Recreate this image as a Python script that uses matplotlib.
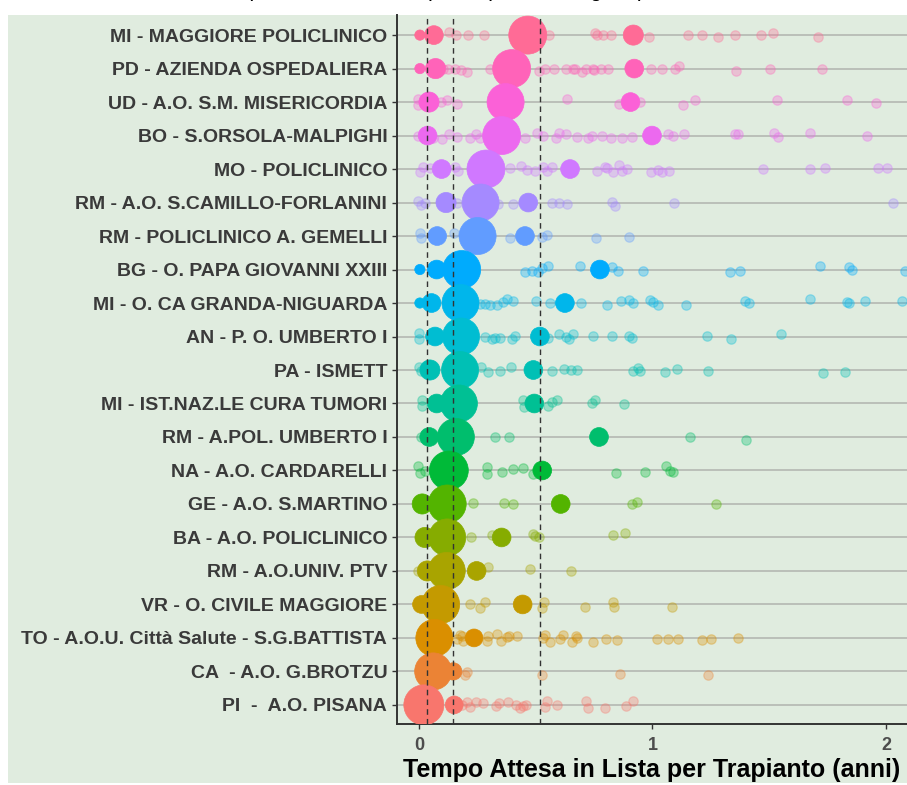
import numpy as np
import matplotlib
matplotlib.use('Agg')
import matplotlib.pyplot as plt
from matplotlib.patches import Rectangle

# centri, dall'alto verso il basso
centri = ['MI - MAGGIORE POLICLINICO', 'PD - AZIENDA OSPEDALIERA', 'UD - A.O. S.M. MISERICORDIA',
          'BO - S.ORSOLA-MALPIGHI', 'MO - POLICLINICO', 'RM - A.O. S.CAMILLO-FORLANINI',
          'RM - POLICLINICO A. GEMELLI', 'BG - O. PAPA GIOVANNI XXIII', 'MI - O. CA GRANDA-NIGUARDA',
          'AN - P. O. UMBERTO I', 'PA - ISMETT', 'MI - IST.NAZ.LE CURA TUMORI', 'RM - A.POL. UMBERTO I',
          'NA - A.O. CARDARELLI', 'GE - A.O. S.MARTINO', 'BA - A.O. POLICLINICO', 'RM - A.O.UNIV. PTV',
          'VR - O. CIVILE MAGGIORE', 'TO - A.O.U. Città Salute - S.G.BATTISTA', 'CA  - A.O. G.BROTZU',
          'PI  -  A.O. PISANA']

# cerchio grande: tempo e numerosita'
grande_x = [0.466, 0.397, 0.371, 0.354, 0.287, 0.264, 0.251, 0.183, 0.178, 0.180, 0.176,
            0.171, 0.158, 0.128, 0.121, 0.121, 0.119, 0.093, 0.066, 0.061, 0.021]
grande_n = [82, 82, 78, 82, 82, 78, 78, 82, 78, 78, 78, 78, 78, 86, 82, 78, 78, 82, 78, 78, 91]

# altri gruppi pieni (tempo, numerosita')
gruppi = [
    [(0.004, 6), (0.064, 20), (0.918, 23)],
    [(0.004, 6), (0.071, 23), (0.922, 20)],
    [(0.043, 23), (0.906, 20)],
    [(0.037, 20), (0.998, 20)],
    [(0.097, 20), (0.647, 20)],
    [(0.116, 23), (0.468, 20)],
    [(0.078, 20), (0.454, 20)],
    [(0.004, 6), (0.076, 20), (0.775, 20)],
    [(0.004, 6), (0.054, 20), (0.625, 20)],
    [(0.069, 20), (0.518, 20)],
    [(0.047, 23), (0.490, 20)],
    [(0.076, 20), (0.494, 20)],
    [(0.044, 20), (0.771, 20)],
    [(0.528, 20)],
    [(0.014, 23), (0.607, 20)],
    [(0.026, 23), (0.354, 20)],
    [(0.036, 23), (0.247, 20)],
    [(0.011, 18), (0.444, 20)],
    [(0.236, 18)],
    [(0.147, 17)],
    [(0.151, 18)],
]

# singoli pazienti (tempo, jitter)
pazienti = [
    [(0.127, .08), (0.158, 0), (0.211, 0), (0.277, 0), (0.558, 0), (0.752, .05), (0.764, 0), (0.789, 0),
     (0.821, 0), (0.986, -.07), (1.153, 0), (1.21, 0), (1.279, -.07), (1.352, 0), (1.465, 0), (1.515, .05),
     (1.707, -.07)],
    [(0.104, 0), (0.126, 0), (0.154, 0), (0.18, -.05), (0.207, -.1), (0.304, 0), (0.513, -.07), (0.54, 0),
     (0.58, 0), (0.628, 0), (0.661, 0), (0.668, 0), (0.697, -.1), (0.715, 0), (0.744, 0), (0.749, -.05),
     (0.778, 0), (0.811, 0), (0.992, 0), (1.042, 0), (1.096, 0), (1.115, .08), (1.358, -.07), (1.503, 0),
     (1.725, 0)],
    [(-0.003, .1), (-0.003, -.1), (0.094, 0), (0.121, .05), (0.161, -.05), (0.635, .08), (0.858, -.05),
     (0.946, 0), (1.132, -.1), (1.182, .07), (1.532, .07), (1.832, .07), (1.956, -.02)],
    [(-0.003, 0), (0.061, -.08), (0.097, -.1), (0.13, .05), (0.161, -.05), (0.218, -.08), (0.244, .05),
     (0.261, -.08), (0.454, -.08), (0.504, .08), (0.53, -.02), (0.587, -.08), (0.6, .08), (0.628, .05),
     (0.675, -.05), (0.725, -.08), (0.739, -.02), (0.786, 0), (0.821, -.08), (0.868, -.08), (0.914, -.05),
     (1.068, .05), (1.086, 0), (1.135, .05), (1.353, .05), (1.368, .05), (1.52, .08), (1.539, -.05),
     (1.675, .08), (1.917, 0)],
    [(0.004, -.08), (0.019, .07), (0.047, .02), (0.154, .07), (0.168, -.06), (0.39, .02), (0.435, .1),
     (0.461, -.03), (0.497, -.06), (0.53, .07), (0.547, -.06), (0.571, .07), (0.764, -.06), (0.797, .07),
     (0.806, .02), (0.832, -.1), (0.857, .12), (0.868, -.06), (0.892, 0), (0.994, -.1), (1.025, -.03),
     (1.04, -.1), (1.072, -.06), (1.475, 0), (1.675, 0), (1.739, .04), (1.967, .04), (2.006, .04)],
    [(-0.003, .04), (0.009, -.08), (0.026, 0), (0.161, 0), (0.34, -.03), (0.404, -.03), (0.568, 0),
     (0.601, 0), (0.635, -.03), (0.825, .03), (0.839, -.1), (1.092, 0), (2.028, 0)],
    [(0.004, .1), (0.009, -.07), (0.151, .1), (0.39, -.07), (0.525, -.03), (0.547, .02), (0.758, -.07),
     (0.901, -.03)],
    [(0.454, -.07), (0.483, -.03), (0.511, -.07), (0.525, .05), (0.554, .1), (0.69, .1), (0.825, .07),
     (0.854, -.03), (0.958, -.03), (1.332, -.07), (1.375, -.03), (1.717, .1), (1.843, .07), (1.853, 0),
     (2.081, -.03)],
    [(0.261, -.03), (0.283, -.03), (0.304, -.05), (0.333, -.05), (0.361, .02), (0.375, .12), (0.401, .05),
     (0.5, .05), (0.561, 0), (0.692, 0), (0.804, -.05), (0.865, .07), (0.901, .09), (0.918, 0),
     (0.989, .09), (1.004, .02), (1.022, -.05), (1.142, -.05), (1.396, .05), (1.415, -.01), (1.675, .12),
     (1.834, .02), (1.843, -.01), (1.91, .05), (2.07, .05)],
    [(0.001, .1), (0.001, -.07), (0.283, 0), (0.311, -.07), (0.325, -.05), (0.347, -.03), (0.397, -.07),
     (0.411, .03), (0.554, -.05), (0.601, .08), (0.63, 0), (0.644, -.07), (0.658, .08), (0.747, .03),
     (0.828, .03), (0.901, .03), (0.914, -.05), (1.235, .03), (1.335, -.07), (1.549, .08)],
    [(0.001, .1), (0.008, -.02), (0.266, .08), (0.294, -.05), (0.347, -.02), (0.393, .1), (0.568, -.02),
     (0.622, .02), (0.651, 0), (0.675, 0), (0.915, -.02), (0.939, .07), (0.946, -.02), (1.054, -.07),
     (1.104, .03), (1.239, -.03), (1.729, -.1), (1.824, -.07)],
    [(0.011, .1), (0.013, -.08), (0.447, .1), (0.449, -.1), (0.554, -.08), (0.571, .04), (0.592, .1),
     (0.739, .02), (0.754, .1), (0.877, -.03)],
    [(0.009, 0), (0.325, 0), (0.387, 0), (1.161, 0), (1.399, -.1)],
    [(-0.003, .13), (0.004, -.07), (0.026, -.02), (0.29, .1), (0.293, -.1), (0.354, -.04), (0.404, .03),
     (0.444, .08), (0.49, -.1), (0.844, -.07), (0.968, -.04), (1.058, .13), (1.075, -.02), (1.086, -.04)],
    [(0.23, .03), (0.364, .03), (0.404, 0), (0.911, 0), (0.935, .06), (1.272, 0)],
    [(0.223, 0), (0.311, .08), (0.487, .1), (0.497, .05), (0.515, 0), (0.832, .08), (0.884, .12)],
    [(-0.003, 0), (0.297, .13), (0.475, .05), (0.651, 0)],
    [(0.218, 0), (0.261, -.12), (0.283, .06), (0.525, -.1), (0.535, .06), (0.711, -.07), (0.832, .06),
     (0.835, -.07), (1.082, -.07)],
    [(0.161, -.02), (0.176, .1), (0.183, .06), (0.19, -.1), (0.29, -.1), (0.297, .06), (0.333, .13),
     (0.35, -.1), (0.375, .03), (0.387, .06), (0.421, .06), (0.532, 0), (0.54, .08), (0.561, -.12),
     (0.604, -.02), (0.618, .08), (0.654, -.12), (0.672, .06), (0.676, 0), (0.747, -.12), (0.801, -.02),
     (0.847, -.07), (1.018, -.02), (1.068, -.02), (1.111, -.02), (1.214, -.07), (1.251, -.02), (1.365, 0)],
    [(0.197, -.1), (0.207, -.02), (0.525, -.1), (0.861, -.08), (1.239, -.1)],
    [(0.183, 0), (0.204, .1), (0.218, -.05), (0.244, .08), (0.276, .05), (0.33, -.02), (0.344, .05),
     (0.383, .1), (0.415, 0), (0.433, -.1), (0.447, -.02), (0.458, 0), (0.54, -.05), (0.547, .12),
     (0.592, 0), (0.715, .12), (0.725, -.08), (0.797, -.1), (0.887, -.02), (0.915, .12)],
]

soglie = [0.034, 0.146, 0.52]

titolo = 'Tempo di attesa in lista per trapianto di fegato per centro'
xlab = 'Tempo Attesa in Lista per Trapianto (anni)'


def hcl_hex(h, c=100, l=65):
    # colore hcl come in R (polarLUV)
    Xn, Yn, Zn = 95.047, 100.0, 108.883
    hr = np.deg2rad(h)
    u = c * np.cos(hr)
    v = c * np.sin(hr)
    Y = Yn * ((l + 16) / 116) ** 3
    den = Xn + 15 * Yn + 3 * Zn
    up = u / (13 * l) + 4 * Xn / den
    vp = v / (13 * l) + 9 * Yn / den
    X = 9 * Y * up / (4 * vp)
    Z = 3 * Y / vp - X / 3 - 5 * Y
    X, Y, Z = X / 100, Y / 100, Z / 100
    rgb = [3.240479 * X - 1.537150 * Y - 0.498535 * Z,
           -0.969256 * X + 1.875992 * Y + 0.041556 * Z,
           0.055648 * X - 0.204043 * Y + 1.057311 * Z]
    out = []
    for ch in rgb:
        ch = 1.055 * ch ** (1 / 2.4) - 0.055 if ch > 0.0031308 else 12.92 * ch
        out.append(min(max(ch, 0), 1))
    return tuple(out)


def area(n):
    d = 4.2 * np.sqrt(n)  # diametro in pixel
    return (d * 0.72) ** 2


verde = '#e0ecdf'
W, H = 907, 785
fig = plt.figure(figsize=(W / 100, H / 100), dpi=100)
fig.patch.set_facecolor('white')
fig.patches.append(Rectangle((8 / W, 2 / H), 1, (785 - 15 - 2) / H, transform=fig.transFigure,
                             facecolor=verde, edgecolor='none', zorder=-5))

ax = fig.add_axes([397 / W, 61 / H, 510 / W, (724 - 15) / H])
ax.set_facecolor(verde)

nr = len(centri)
ypos = [nr - 1 - i for i in range(nr)]
colori = [hcl_hex(15 + 360 * (nr - 1 - i) / nr) for i in range(nr)]

for y in ypos:
    ax.axhline(y, color='#b8bcb6', lw=1.3, zorder=1)

for i in range(nr):
    xs = [p[0] for p in pazienti[i]]
    ys = [ypos[i] + p[1] for p in pazienti[i]]
    ax.scatter(xs, ys, s=46, color=colori[i], alpha=0.32, edgecolors=colori[i], linewidths=0.9, zorder=2)

for i in range(nr):
    xs = [g[0] for g in gruppi[i]] + [grande_x[i]]
    ns = [g[1] for g in gruppi[i]] + [grande_n[i]]
    ax.scatter(xs, [ypos[i]] * len(xs), s=[area(n) for n in ns], color=colori[i],
               edgecolors=colori[i], linewidths=0.5, zorder=3)

for s in soglie:
    ax.axvline(s, color='#333333', lw=1.0, ls=(0, (4, 3)), zorder=4)

ax.set_xlim(-0.094, 2.09)
ax.set_ylim(-0.57, 20.6)
ax.set_yticks(ypos)
ax.set_yticklabels(centri, fontsize=14, fontweight='bold', color='#3a3a3a', family='Liberation Sans')
ax.set_xticks([0, 1, 2])
ax.set_xticklabels(['0', '1', '2'], fontsize=13, fontweight='bold', color='#4d4d4d', family='Liberation Sans')
ax.tick_params(axis='both', length=3.5, width=1, color='#333333')
ax.tick_params(axis='y', pad=3.5)
ax.tick_params(axis='x', pad=6)
for side in ['top', 'right']:
    ax.spines[side].set_visible(False)
for side in ['left', 'bottom']:
    ax.spines[side].set_color('#333333')
    ax.spines[side].set_linewidth(1.4)
ax.set_xlabel(xlab, fontsize=18, fontweight='bold', color='black', family='Liberation Sans', labelpad=3)

fig.text(470 / W, 1 + 3 / H, titolo, ha='center', va='baseline', fontsize=15, family='Liberation Sans')

fig.savefig('out.png', dpi=100)
